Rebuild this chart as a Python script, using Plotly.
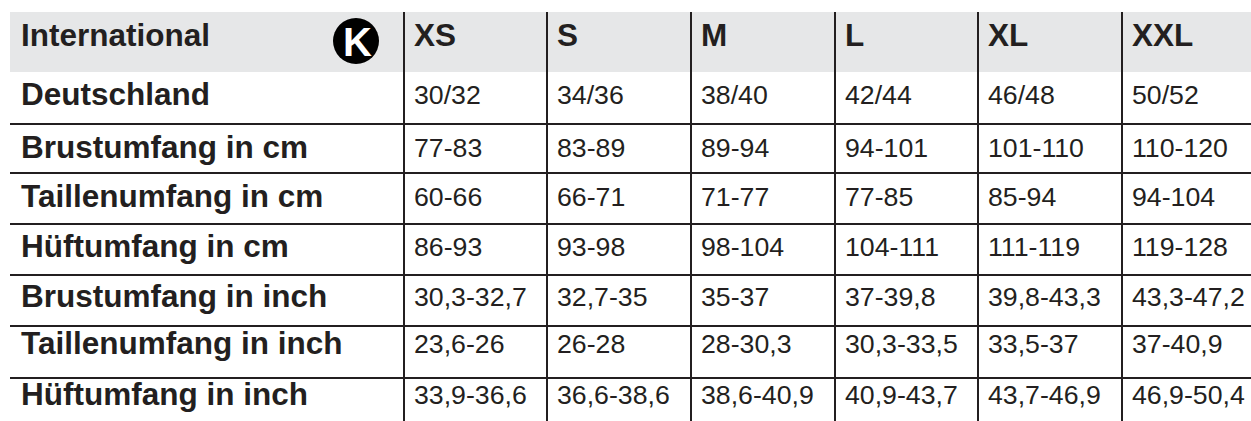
import plotly.graph_objects as go

# ---- data ----
header_label = "International"
sizes = ["XS", "S", "M", "L", "XL", "XXL"]
row_labels = [
    "Deutschland",
    "Brustumfang in cm",
    "Taillenumfang in cm",
    "Hüftumfang in cm",
    "Brustumfang in inch",
    "Taillenumfang in inch",
    "Hüftumfang in inch",
]
deutschland = ["30/32", "34/36", "38/40", "42/44", "46/48", "50/52"]
brust_cm = ["77-83", "83-89", "89-94", "94-101", "101-110", "110-120"]
taille_cm = ["60-66", "66-71", "71-77", "77-85", "85-94", "94-104"]
huefte_cm = ["86-93", "93-98", "98-104", "104-111", "111-119", "119-128"]
brust_inch = ["30,3-32,7", "32,7-35", "35-37", "37-39,8", "39,8-43,3", "43,3-47,2"]
taille_inch = ["23,6-26", "26-28", "28-30,3", "30,3-33,5", "33,5-37", "37-40,9"]
huefte_inch = ["33,9-36,6", "36,6-38,6", "38,6-40,9", "40,9-43,7", "43,7-46,9", "46,9-50,4"]
rows = [deutschland, brust_cm, taille_cm, huefte_cm, brust_inch, taille_inch, huefte_inch]

# ---- layout geometry (pixels) ----
W, H = 1251, 421
left = 10
col_edges = [404, 547, 691, 835, 978, 1122]
row_edges = [12, 72, 124, 173, 224, 275, 326, 378]
text_y = [38.5, 97, 150, 199.5, 249.5, 299.5, 346.5, 397.5]
label_x = 21
pad = 10
ink = "#231f20"
gray = "#e6e7e8"

fig = go.Figure()

shapes = []
shapes.append(dict(type="rect", x0=left, x1=W + 5, y0=row_edges[0], y1=row_edges[1],
                   fillcolor=gray, line=dict(width=0), layer="below"))
for y in row_edges[2:]:
    shapes.append(dict(type="line", x0=left, x1=W + 5, y0=y, y1=y,
                       line=dict(color=ink, width=2)))
for x in col_edges:
    shapes.append(dict(type="line", x0=x, x1=x, y0=row_edges[0], y1=H + 5,
                       line=dict(color=ink, width=2)))
shapes.append(dict(type="circle", x0=333, x1=379, y0=18, y1=64,
                   fillcolor="#000000", line=dict(width=0)))

label_font = dict(family="Liberation Sans", size=31.5, color=ink, weight="bold")

fig.add_trace(go.Scatter(
    x=[label_x] * (len(row_labels) + 1), y=text_y,
    text=[header_label] + row_labels, mode="text", textposition="middle right",
    textfont=label_font, hoverinfo="skip", showlegend=False))

fig.add_trace(go.Scatter(
    x=[c + pad for c in col_edges], y=[text_y[0]] * len(sizes),
    text=sizes, mode="text", textposition="middle right",
    textfont=label_font, hoverinfo="skip", showlegend=False))

xs, ys, ts = [], [], []
for r, vals in enumerate(rows):
    for c, v in enumerate(vals):
        xs.append(col_edges[c] + pad)
        ys.append(text_y[r + 1])
        ts.append(v)
fig.add_trace(go.Scatter(
    x=xs, y=ys, text=ts, mode="text", textposition="middle right",
    textfont=dict(family="Liberation Sans", size=26.7, color=ink),
    hoverinfo="skip", showlegend=False))

fig.add_annotation(x=357, y=42, text="<b>K</b>", showarrow=False,
                   font=dict(family="Liberation Sans", size=40, color="white"),
                   xanchor="center", yanchor="middle")

fig.update_layout(
    width=W, height=H, margin=dict(l=0, r=0, t=0, b=0),
    paper_bgcolor="white", plot_bgcolor="white",
    shapes=shapes,
    xaxis=dict(range=[0, W], visible=False, fixedrange=True),
    yaxis=dict(range=[H, 0], visible=False, fixedrange=True),
)

fig.write_html("out.html", config={"displayModeBar": False},
               post_script="document.body.style.margin='0px';document.body.style.overflow='hidden';")
